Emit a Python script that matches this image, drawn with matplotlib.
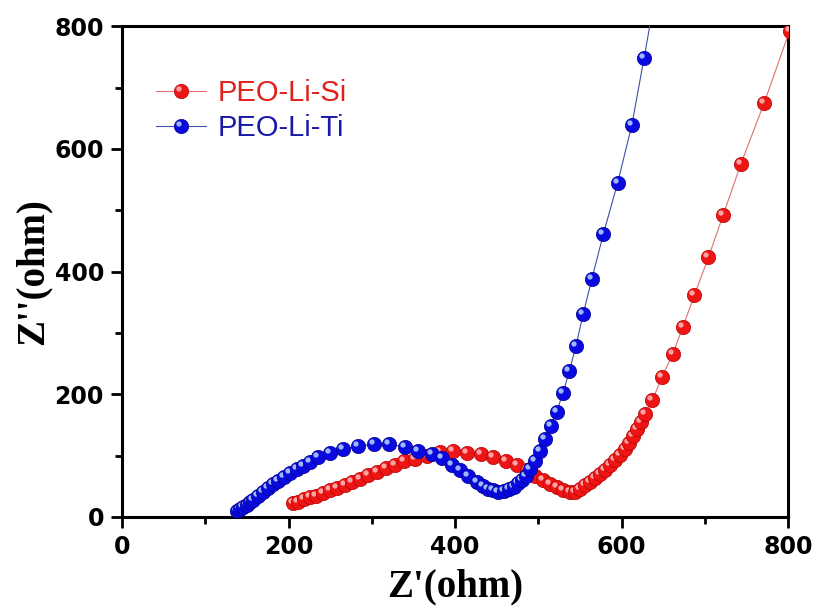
import matplotlib
matplotlib.use("Agg")
import matplotlib.pyplot as plt
from matplotlib.lines import Line2D
from matplotlib.path import Path
from matplotlib.markers import MarkerStyle
from matplotlib.legend_handler import HandlerTuple

# ---- data ----
si_zre = [204.8, 211.4, 218.6, 225.8, 233.6, 241.4, 249.8, 258.3, 267.3, 276.3,
          285.9, 295.5, 305.7, 316.5, 327.3, 338.7, 352.0, 366.4, 382.0, 398.0,
          414.1, 430.6, 446.2, 461.3, 474.5, 485.9, 496.1, 506.1, 514.1, 522.2,
          530.1, 538.1, 544.1, 550.2, 556.2, 562.2, 568.2, 574.2, 580.2, 586.2,
          592.2, 598.2, 604.2, 609.4, 614.2, 618.3, 623.1, 628.2, 637.2, 648.6,
          661.3, 673.5, 687.4, 704.3, 722.3, 743.2, 771.2, 802.0]
si_zim = [22.8, 25.2, 28.5, 31.8, 35.0, 39.1, 43.2, 47.2, 52.1, 57.0,
          62.7, 68.4, 74.1, 79.8, 85.5, 91.2, 95.3, 100.2, 105.9, 107.0,
          105.0, 102.6, 97.7, 92.0, 85.5, 76.5, 66.8, 60.3, 53.7, 48.4,
          44.0, 40.7, 41.5, 46.4, 52.1, 57.5, 63.0, 70.0, 76.5, 84.7,
          92.8, 101.0, 110.3, 121.0, 131.9, 142.8, 155.2, 167.8, 190.6, 228.0,
          265.0, 309.0, 361.1, 423.0, 493.0, 574.9, 674.3, 793.0]

ti_zre = [138.1, 141.7, 145.3, 149.8, 153.8, 157.7, 163.7, 169.7, 175.7, 181.7,
          187.7, 195.0, 201.8, 209.9, 217.4, 225.8, 235.8, 249.8, 265.8, 283.8,
          302.7, 321.1, 339.9, 355.9, 372.0, 384.0, 396.0, 406.0, 416.0, 426.1,
          433.6, 439.6, 445.6, 452.0, 458.9, 464.9, 470.3, 475.7, 480.5, 485.3,
          490.1, 496.1, 502.1, 508.1, 514.7, 521.9, 529.7, 537.3, 545.3, 553.8,
          564.2, 578.1, 595.4, 612.3, 627.0, 642.6]
ti_zim = [9.0, 12.2, 15.5, 19.5, 23.6, 27.7, 34.2, 41.2, 47.7, 53.7,
          59.1, 64.7, 71.2, 77.7, 83.9, 90.4, 97.2, 103.7, 110.3, 115.6,
          118.4, 118.4, 114.5, 108.0, 102.6, 95.6, 84.7, 76.5, 66.8, 57.5,
          51.3, 46.4, 43.2, 41.2, 42.0, 44.8, 48.9, 54.6, 60.3, 67.6,
          77.4, 91.2, 108.3, 127.9, 149.0, 171.5, 202.0, 237.8, 279.3, 330.1,
          387.3, 460.9, 545.1, 638.4, 747.6, 866.4]

labels = ["PEO-Li-Si", "PEO-Li-Ti"]
x_ticks = [0, 200, 400, 600, 800]
y_ticks = [0, 200, 400, 600, 800]

# ---- figure ----
fig = plt.figure(figsize=(8.14, 6.10), dpi=100)
ax = fig.add_axes([0.1499, 0.1525, 0.8182, 0.8045])

MS = 10.3
# highlight spot: small circle offset up-left of the marker centre
_off, _rad = 1.8, 1.9
hl_marker = MarkerStyle(Path.circle(center=(-_off, _off), radius=_rad))
HL_MS = 2 * (_off + _rad)

styles = [
    dict(line="#e07070", base="#ee1515", edge="#b80000", hl="#ffb4b4", text="#e0201c"),
    dict(line="#4050a8", base="#0a0ae0", edge="#000090", hl="#acccff", text="#1a1aa8"),
]

handles = []
z = 3.0
for (xs, ys), st in zip([(si_zre, si_zim), (ti_zre, ti_zim)], styles):
    ax.plot(xs, ys, '-', color=st["line"], lw=0.8, zorder=z)
    z += 0.01
    for xi, yi in zip(xs, ys):
        ax.plot([xi], [yi], 'o', ms=MS, mfc=st["base"], mec=st["edge"], mew=0.5, zorder=z)
        ax.plot([xi], [yi], ls='none', marker=hl_marker, ms=HL_MS, mfc=st["hl"],
                mec='none', alpha=0.9, zorder=z + 0.0005)
        z += 0.001
    h1 = Line2D([], [], color=st["line"], lw=0.8, marker='o', ms=MS,
                mfc=st["base"], mec=st["edge"], mew=0.5)
    h2 = Line2D([], [], ls='none', marker=hl_marker, ms=HL_MS, mfc=st["hl"],
                mec='none', alpha=0.9)
    handles.append((h1, h2))
    z += 1

ax.set_xlim(0, 800)
ax.set_ylim(0, 800)
ax.set_xticks(x_ticks)
ax.set_yticks(y_ticks)
ax.set_xticks([100, 300, 500, 700], minor=True)
ax.set_yticks([100, 300, 500, 700], minor=True)

tick_font = dict(family="DejaVu Sans", weight="bold", size=17)
ax.set_xticklabels([str(v) for v in x_ticks], fontdict=tick_font)
ax.set_yticklabels([str(v) for v in y_ticks], fontdict=tick_font)
ax.tick_params(which="major", direction="out", length=8, width=2, pad=5,
               top=False, right=False)
ax.tick_params(which="minor", direction="out", length=5, width=2,
               top=False, right=False)
for sp in ax.spines.values():
    sp.set_linewidth(2.2)

label_font = dict(family="Liberation Serif", weight="bold", size=28)
ax.set_xlabel("Z'(ohm)", fontdict=label_font, labelpad=7)
ax.set_ylabel("Z''(ohm)", fontdict=label_font, labelpad=2)

leg = ax.legend(handles, labels, handler_map={tuple: HandlerTuple(ndivide=1)},
                loc="upper left", bbox_to_anchor=(0.051, 0.893), frameon=False,
                prop=dict(family="Liberation Sans", size=21),
                handlelength=1.7, handletextpad=0.4, labelspacing=0.25,
                borderpad=0, borderaxespad=0)
for t, st in zip(leg.get_texts(), styles):
    t.set_color(st["text"])

fig.savefig("out.png", dpi=100)
